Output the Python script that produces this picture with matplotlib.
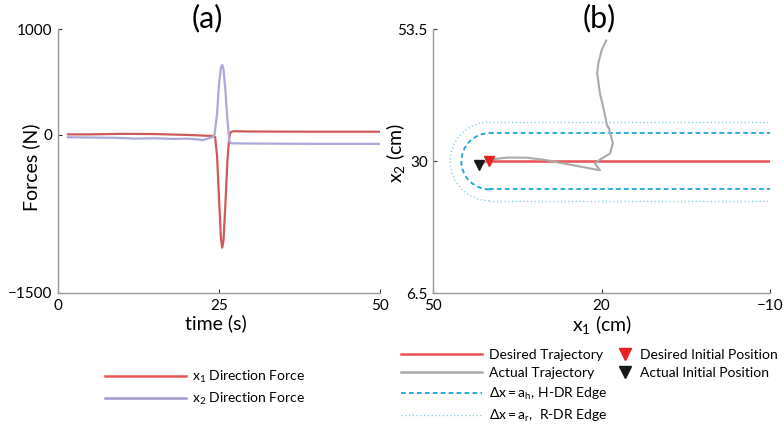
import matplotlib
matplotlib.use("Agg")
import matplotlib.pyplot as plt
from matplotlib.patches import Arc
from matplotlib.lines import Line2D

plt.rcParams['font.family'] = ['Lato', 'DejaVu Sans']
plt.rcParams['mathtext.fontset'] = 'custom'
plt.rcParams['mathtext.rm'] = 'Lato'
plt.rcParams['mathtext.it'] = 'Lato'
plt.rcParams['mathtext.bf'] = 'Lato'

# ---------------- data: panel (a) ----------------
t_red = [1.5, 5, 10, 15, 20, 22, 24, 24.4, 24.7, 25.0, 25.3, 25.5, 25.7, 26.0, 26.3, 26.6, 26.8, 27.2, 30, 40, 50]
f_x1 = [5, 5, 10, 8, 0, -5, -10, -20, -200, -600, -980, -1070, -1000, -650, -250, -20, 25, 35, 32, 30, 30]

t_blue = [1.5, 5, 9, 12, 15, 18, 20, 22, 22.5, 23, 24, 24.3, 24.7, 25.0, 25.3, 25.5, 25.7, 26.0, 26.3, 26.6, 26.9, 30, 40, 50]
f_x2 = [-22, -25, -28, -35, -32, -38, -35, -45, -50, -40, -20, 0, 200, 480, 640, 665, 620, 420, 150, -60, -80, -82, -85, -85]

# ---------------- data: panel (b) ----------------
desired_x1 = [40, -10]
desired_x2 = [30, 30]
actual_x1 = [41.4, 39.9, 36.9, 33.4, 29.8, 25.1, 20.3, 21.2, 20.3, 18.5, 18.0, 18.8, 19.0, 19.6, 20.3, 20.8, 20.6, 20.0, 19.2]
actual_x2 = [29.5, 30.3, 30.65, 30.65, 30.2, 29.3, 28.4, 29.6, 30.3, 31.4, 33.2, 36.2, 36.2, 39.1, 42.1, 45.7, 47.4, 49.8, 51.5]
desired_init = (40, 30)
actual_init = (41.9, 29.3)
edge_center = (40, 30)
a_h = 5
a_r = 7
edge_end_x1 = -10

# ---------------- figure ----------------
fig = plt.figure(figsize=(7.84, 4.30), dpi=100)
axA = fig.add_axes([58/784, 137/430, 322/784, 263.5/430])
axB = fig.add_axes([433.3/784, 136.7/430, 336.7/784, 264/430])

spine_col = '#9a9a9a'
fs = 11
lfs = 10
labfs = 14

def style(ax):
    for s in ['top', 'right']:
        ax.spines[s].set_visible(False)
    for s in ['left', 'bottom']:
        ax.spines[s].set_color(spine_col)
        ax.spines[s].set_linewidth(1.0)
    ax.tick_params(direction='in', length=3, width=0.8, color='#333333',
                   labelsize=fs, pad=4)

# panel (a)
red_a = '#d05a5a'
blue_a = '#a9a9dc'
axA.plot(t_red, f_x1, color=red_a, lw=1.6, solid_capstyle='round')
axA.plot(t_blue, f_x2, color=blue_a, lw=1.6, solid_capstyle='round')
axA.set_xlim(0, 50)
axA.set_ylim(-1500, 1000)
axA.set_xticks([0, 25, 50])
axA.set_yticks([1000, 0, -1500])
style(axA)
axA.set_xlabel('time (s)', fontsize=labfs)
axA.set_ylabel('Forces (N)', fontsize=labfs)
axA.xaxis.set_label_coords(157.7/322, -30/263.5)
axA.xaxis.label.set_va('center')
axA.yaxis.set_label_coords(-27/322, 126/263.5)
axA.yaxis.label.set_va('center')

# panel (b)
red_b = '#e85252'
grey_b = '#aaaaaa'
blue_h = '#1aa5d8'
blue_r = '#7fcde8'
axB.set_xlim(50, -10)
axB.set_ylim(6.5, 53.5)

dash_h = (2.6, 1.8)
dash_r = (0.9, 1.8)
cx, cy = edge_center
for r, col, lw, dashes in [(a_h, blue_h, 1.3, dash_h), (a_r, blue_r, 1.0, dash_r)]:
    axB.plot([cx, edge_end_x1], [cy + r, cy + r], color=col, lw=lw, dashes=dashes)
    axB.plot([cx, edge_end_x1], [cy - r, cy - r], color=col, lw=lw, dashes=dashes)
    arc = Arc((cx, cy), 2 * r, 2 * r, theta1=-90, theta2=90, color=col, lw=lw,
              linestyle=(0, dashes))
    axB.add_patch(arc)

axB.plot(desired_x1, desired_x2, color=red_b, lw=1.8)
axB.plot(actual_x1, actual_x2, color=grey_b, lw=1.5)
axB.plot([desired_init[0]], [desired_init[1]], marker='v', color='#e8201f', ms=7, ls='none')
axB.plot([actual_init[0]], [actual_init[1]], marker='v', color='#1a1a1a', ms=7, ls='none')
axB.set_xticks([50, 20, -10])
axB.set_yticks([53.5, 30, 6.5])
axB.set_yticklabels(['53.5', '30', '6.5'])
style(axB)
axB.set_xlabel(r'$\mathregular{x_1}$ (cm)', fontsize=labfs)
axB.set_ylabel(r'$\mathregular{x_2}$ (cm)', fontsize=labfs)
axB.xaxis.set_label_coords(169/336.7, -31/264)
axB.xaxis.label.set_va('center')
axB.yaxis.set_label_coords(-38/336.7, 140/264)
axB.yaxis.label.set_va('center')

fig.text(207/784, 1 - 18/430, '(a)', fontsize=22, ha='center', va='center')
fig.text(599/784, 1 - 18/430, '(b)', fontsize=22, ha='center', va='center')

# legends
fig.legend(handles=[Line2D([], [], color='#e85555', lw=1.8),
                    Line2D([], [], color='#a09ad0', lw=1.8)],
           labels=[r'$\mathregular{x_{1}}$ Direction Force', r'$\mathregular{x_{2}}$ Direction Force'],
           loc='upper left', bbox_to_anchor=(105/784, 1 - 369/430),
           frameon=False, fontsize=lfs, handlelength=5.8, handletextpad=0.45,
           labelspacing=0.4, borderpad=0, borderaxespad=0)

fig.legend(handles=[Line2D([], [], color=red_b, lw=1.8),
                    Line2D([], [], color=grey_b, lw=1.8),
                    Line2D([], [], color=blue_h, lw=1.3, dashes=dash_h),
                    Line2D([], [], color=blue_r, lw=1.0, dashes=dash_r)],
           labels=['Desired Trajectory', 'Actual Trajectory',
                   r'$\mathregular{\Delta x = a_h}$, H-DR Edge',
                   r'$\mathregular{\Delta x = a_r}$,  R-DR Edge'],
           loc='upper left', bbox_to_anchor=(401/784, 1 - 349/430),
           frameon=False, fontsize=lfs, handlelength=5.8, handletextpad=0.5,
           labelspacing=0.45, borderpad=0, borderaxespad=0)

fig.legend(handles=[Line2D([], [], color='#e8201f', marker='v', ms=9, ls='none'),
                    Line2D([], [], color='#1a1a1a', marker='v', ms=9, ls='none')],
           labels=['Desired Initial Position', 'Actual Initial Position'],
           loc='upper left', bbox_to_anchor=(618/784, 1 - 349/430),
           frameon=False, fontsize=lfs, handlelength=1.0, handletextpad=0.6,
           labelspacing=0.45, borderpad=0, borderaxespad=0)

fig.savefig('out.png', dpi=100)
